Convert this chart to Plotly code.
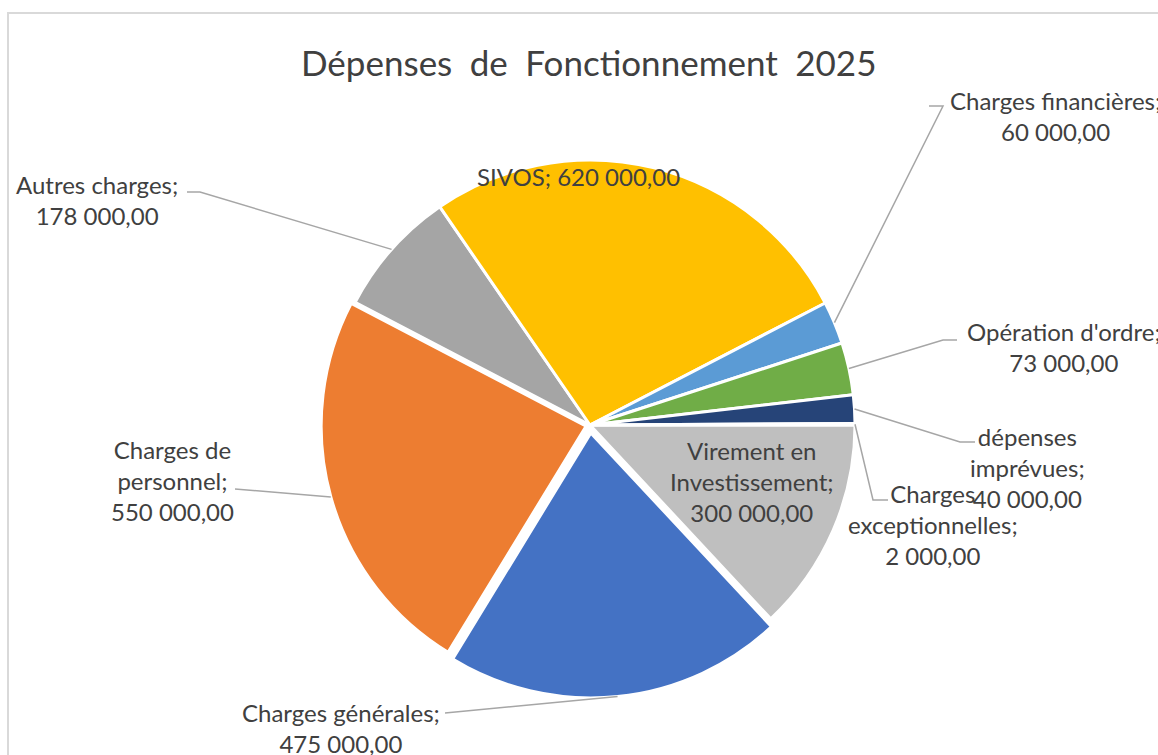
import math
import plotly.graph_objects as go

# ---------------- data ----------------
categories = ["Virement en Investissement", "Charges générales", "Charges de personnel",
              "Autres charges", "SIVOS", "Charges financières", "Opération d'ordre",
              "dépenses imprévues", "Charges exceptionnelles"]
values = [300000, 475000, 550000, 178000, 620000, 60000, 73000, 40000, 2000]
label_names = ["Virement en<br>Investissement;", "Charges générales;", "Charges de<br>personnel;",
               "Autres charges;", "SIVOS;", "Charges financières;", "Opération d'ordre;",
               "dépenses<br>imprévues;", "Charges<br>exceptionnelles;"]
title_words = ["Dépenses", "de", "Fonctionnement", "2025"]

# ---------------- style / layout ----------------
W, H = 1158, 755
colors = ["#BFBFBF", "#4472C4", "#ED7D31", "#A5A5A5", "#FFC000", "#5B9BD5", "#70AD47", "#264478", "#9E480E"]
pulls = [0.0, 0.03, 0.015, 0, 0, 0, 0, 0, 0]
CX, CY, R = 590, 425, 265
FONT = "Lato"
TXT = "#404040"
LEAD = "#A6A6A6"

# label block centres (px) and leader bend points (px, from label side)
label_pos = [(752, 481), (341, 728), (172, 480), (97, 200), (578, 177),
             (1055, 116), (1064, 347), (1027, 467), (933, 524)]
label_sep = ["<br>", "<br>", "<br>", "<br>", " ", "<br>", "<br>", "<br>", "<br>"]
leader_pts = [None, [(445, 713)], [(235, 489)], [(187, 192), (200, 192)], None,
              [(929, 106), (943, 106)], [(957, 340), (943, 340)], [(975, 442), (960, 442)],
              [(888, 500), (873, 500)]]


def fmt(v):
    s = f"{v:,.2f}"
    ip, dp = s.split(".")
    return ip.replace(",", " ") + "," + dp


def px(x):
    return x / W


def py(y):
    return 1 - y / H


maxpull = max(pulls)
half = R * (1 + maxpull)

fig = go.Figure(go.Pie(
    labels=categories, values=values, sort=False, direction="clockwise", rotation=90,
    marker=dict(colors=colors, line=dict(color="white", width=3)),
    pull=pulls, textinfo="none", hoverinfo="label+value", showlegend=False,
    domain=dict(x=[px(CX - half), px(CX + half)], y=[py(CY + half), py(CY - half)]),
))

annotations = [dict(text="\u2002".join(title_words), x=px(588), y=py(62), xref="paper", yref="paper",
                    showarrow=False, xanchor="center", yanchor="middle",
                    font=dict(family=FONT, size=35, color=TXT))]
shapes = [dict(type="rect", xref="paper", yref="paper", x0=px(8), y0=-0.1, x1=1.1, y1=py(13),
               line=dict(color="#D9D9D9", width=2), fillcolor="rgba(0,0,0,0)", layer="below")]

total = sum(values)
cum = 0
for i, v in enumerate(values):
    a0 = 90 + 360 * cum / total
    cum += v
    a1 = 90 + 360 * cum / total
    am = math.radians((a0 + a1) / 2)
    dx, dy = math.sin(am), -math.cos(am)
    pc_x = CX + pulls[i] * R * dx
    pc_y = CY + pulls[i] * R * dy
    ex, ey = pc_x + R * dx, pc_y + R * dy
    lx, ly = label_pos[i]
    annotations.append(dict(text=label_names[i] + label_sep[i] + fmt(v),
                            x=px(lx), y=py(ly), xref="paper", yref="paper", showarrow=False,
                            xanchor="center", yanchor="middle", align="center",
                            font=dict(family=FONT, size=24, color=TXT)))
    if leader_pts[i]:
        pts = list(leader_pts[i]) + [(ex, ey)]
        path = "M " + " L ".join(f"{px(x):.5f},{py(y):.5f}" for x, y in pts)
        shapes.append(dict(type="path", xref="paper", yref="paper", path=path,
                           line=dict(color=LEAD, width=1.5)))

fig.update_layout(width=W, height=H, margin=dict(l=0, r=0, t=0, b=0),
                  paper_bgcolor="white", plot_bgcolor="white",
                  annotations=annotations, shapes=shapes)
fig.write_html("out.html", config={"displayModeBar": False},
               post_script="document.body.style.margin='0';document.body.style.overflow='hidden';")
